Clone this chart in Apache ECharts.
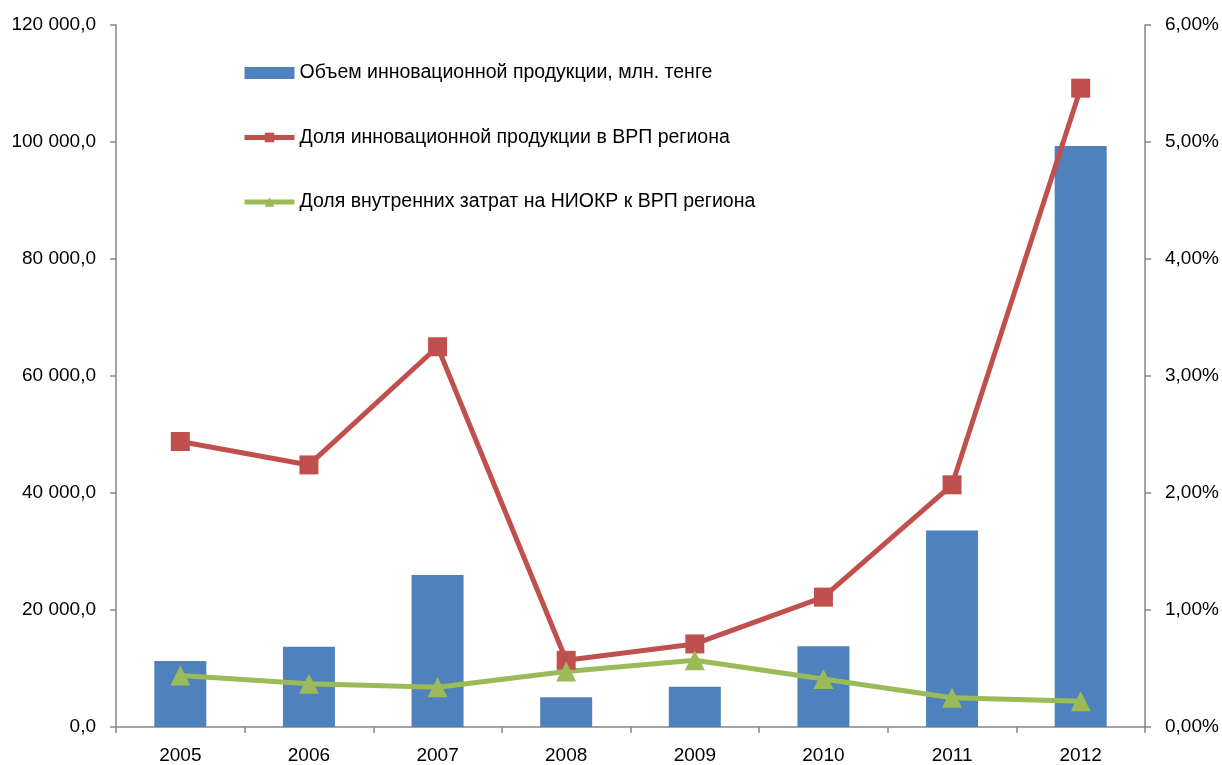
<!DOCTYPE html>
<html>
<head>
<meta charset="utf-8">
<script src="https://cdn.jsdelivr.net/npm/echarts@6/dist/echarts.min.js"></script>
<style>html,body{margin:0;padding:0;background:#fff}#c{width:1222px;height:765px}</style>
</head>
<body>
<div id="c"></div>
<script>
const years = ['2005','2006','2007','2008','2009','2010','2011','2012'];
const volume = [11300, 13700, 26000, 5100, 6900, 13800, 33600, 99300];
const shareInnov = [2.44, 2.24, 3.25, 0.57, 0.71, 1.11, 2.07, 5.46];
const shareRnd = [0.44, 0.37, 0.34, 0.475, 0.57, 0.41, 0.25, 0.22];
const seriesNames = [
  'Объем инновационной продукции, млн. тенге',
  'Доля инновационной продукции в ВРП региона',
  'Доля внутренних затрат на НИОКР к ВРП региона'
];

const FONT = 'Liberation Sans';
const axisGray = '#868686';
function fmtLeft(v){
  const s = Math.round(v).toString().replace(/\B(?=(\d{3})+(?!\d))/g, ' ');
  return s + ',0';
}
function fmtRight(v){ return v.toFixed(2).replace('.', ',') + '%'; }

const chart = echarts.init(document.getElementById('c'), null, {renderer:'canvas'});
chart.setOption({
  animation: false,
  backgroundColor: '#fff',
  textStyle: {fontFamily: FONT},
  grid: {left: 116, right: 77, top: 25, bottom: 37, containLabel: false},
  legend: {
    orient: 'vertical', left: 242, top: 62, padding: 0,
    itemWidth: 50, itemHeight: 12, itemGap: 42.5,
    lineStyle: {width: 5},
    textStyle: {fontFamily: FONT, fontSize: 19.5, color: '#000', lineHeight: 22},
    data: [
      {name: seriesNames[0], icon: 'rect'},
      {name: seriesNames[1]},
      {name: seriesNames[2]}
    ]
  },
  xAxis: {
    type: 'category', data: years,
    axisLine: {lineStyle: {color: axisGray, width: 1.5}},
    axisTick: {show: true, inside: false, length: 6, alignWithLabel: false, lineStyle: {color: axisGray, width: 1.5}},
    axisLabel: {color: '#000', fontSize: 19, fontFamily: FONT, margin: 19},
    splitLine: {show: false}
  },
  yAxis: [
    {
      type: 'value', min: 0, max: 120000, interval: 20000,
      axisLine: {show: true, lineStyle: {color: axisGray, width: 1.5}},
      axisTick: {show: true, length: 6, lineStyle: {color: axisGray, width: 1.5}},
      axisLabel: {color: '#000', fontSize: 19, fontFamily: FONT, margin: 20, formatter: fmtLeft},
      splitLine: {show: false}
    },
    {
      type: 'value', min: 0, max: 6, interval: 1, position: 'right',
      axisLine: {show: true, lineStyle: {color: axisGray, width: 1.5}},
      axisTick: {show: true, length: 6, lineStyle: {color: axisGray, width: 1.5}},
      axisLabel: {color: '#000', fontSize: 19, fontFamily: FONT, margin: 20, formatter: fmtRight},
      splitLine: {show: false}
    }
  ],
  series: [
    {
      name: seriesNames[0], type: 'bar', yAxisIndex: 0, data: volume,
      barWidth: 52,
      itemStyle: {color: '#4F81BD'}
    },
    {
      name: seriesNames[1], type: 'line', yAxisIndex: 1, data: shareInnov,
      symbol: 'rect', symbolSize: 19,
      lineStyle: {color: '#C0504D', width: 5},
      itemStyle: {color: '#C0504D'}
    },
    {
      name: seriesNames[2], type: 'line', yAxisIndex: 1, data: shareRnd,
      symbol: 'triangle', symbolSize: 20,
      lineStyle: {color: '#9BBB59', width: 5},
      itemStyle: {color: '#9BBB59'}
    }
  ]
});
</script>
</body>
</html>
